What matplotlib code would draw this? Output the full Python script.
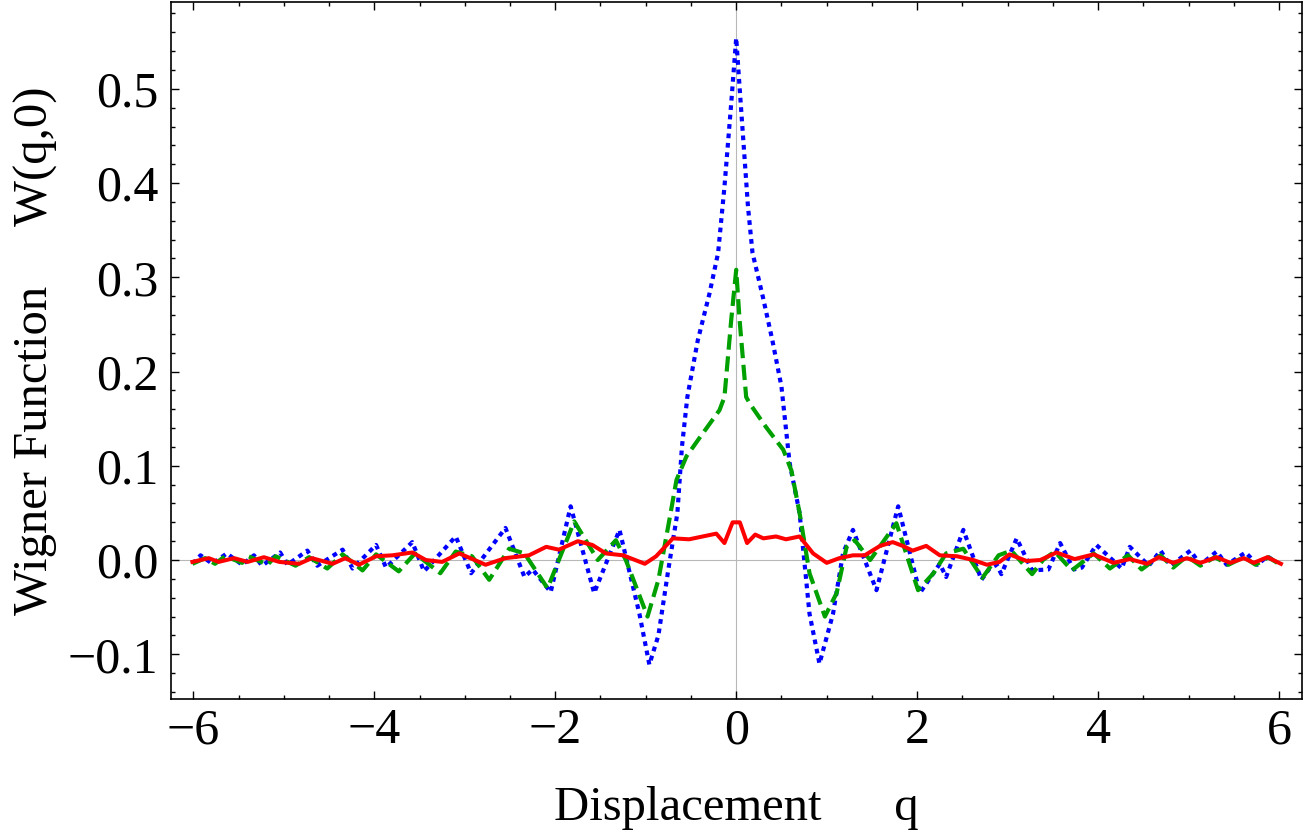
import matplotlib
matplotlib.use('Agg')
import matplotlib.pyplot as plt
from matplotlib.ticker import MultipleLocator

# ---------------- data ----------------
q_blue = [-6.01, -5.92, -5.79, -5.63, -5.46, -5.33, -5.24, -5.04, -4.96, -4.74,
          -4.63, -4.35, -4.24, -3.98, -3.87, -3.58, -3.45, -3.10, -2.93, -2.55,
          -2.34, -2.25, -2.05, -1.83, -1.57, -1.29, -1.07, -0.96, -0.86, -0.75,
          -0.65, -0.60, -0.54, -0.425, -0.295, -0.20, -0.13, -0.055, 0.0, 0.037,
          0.13, 0.18, 0.295, 0.40, 0.50, 0.59, 0.70, 0.81, 0.92, 1.07,
          1.18, 1.29, 1.55, 1.79, 2.03, 2.25, 2.32, 2.51, 2.71, 2.80,
          2.88, 2.93, 3.10, 3.27, 3.45, 3.58, 3.73, 3.82, 3.98, 4.26,
          4.35, 4.56, 4.69, 4.80, 5.02, 5.13, 5.31, 5.42, 5.63, 5.76,
          5.87, 5.96]
w_blue = [-0.004, 0.005, -0.004, 0.007, -0.005, 0.005, -0.006, 0.008, -0.005, 0.010,
          -0.006, 0.011, -0.009, 0.016, -0.008, 0.019, -0.012, 0.025, -0.014, 0.034,
          -0.018, -0.010, -0.034, 0.057, -0.035, 0.032, -0.057, -0.111, -0.080, -0.010,
          0.050, 0.120, 0.173, 0.233, 0.283, 0.326, 0.396, 0.485, 0.554, 0.502,
          0.375, 0.326, 0.279, 0.233, 0.184, 0.103, 0.050, -0.057, -0.110, -0.057,
          0.007, 0.032, -0.032, 0.057, -0.035, -0.004, -0.018, 0.032, -0.021, -0.009,
          -0.005, -0.015, 0.023, -0.011, -0.010, 0.018, -0.010, -0.008, 0.016, -0.009,
          0.014, -0.006, 0.010, -0.006, 0.010, -0.005, 0.009, -0.005, 0.008, -0.005,
          0.004, -0.002]

q_green = [-6.01, -5.87, -5.76, -5.65, -5.46, -5.39, -5.18, -5.09, -4.87, -4.72,
           -4.52, -4.35, -4.13, -3.98, -3.73, -3.55, -3.27, -3.10, -2.92, -2.73,
           -2.51, -2.34, -2.085, -1.79, -1.53, -1.33, -1.22, -0.98, -0.86, -0.74,
           -0.66, -0.55, -0.41, -0.185, -0.13, -0.055, 0.0, 0.037, 0.11, 0.15,
           0.33, 0.52, 0.61, 0.70, 0.81, 0.98, 1.11, 1.22, 1.31, 1.48,
           1.77, 2.01, 2.18, 2.32, 2.51, 2.72, 2.90, 3.04, 3.27, 3.39,
           3.52, 3.71, 3.95, 4.13, 4.33, 4.48, 4.69, 4.83, 4.98, 5.13,
           5.29, 5.44, 5.61, 5.74, 5.88, 5.98]
w_green = [-0.004, 0.002, -0.004, 0.004, -0.003, 0.004, -0.005, 0.004, -0.006, 0.003,
           -0.009, 0.006, -0.011, 0.006, -0.012, 0.007, -0.014, 0.009, 0.004, -0.021,
           0.012, 0.007, -0.030, 0.041, 0.000, 0.021, 0.000, -0.060, -0.021, 0.042,
           0.085, 0.110, 0.129, 0.159, 0.173, 0.255, 0.308, 0.255, 0.173, 0.166,
           0.141, 0.117, 0.095, 0.050, -0.014, -0.060, -0.035, 0.014, 0.021, 0.000,
           0.039, -0.032, -0.014, 0.007, 0.012, -0.019, 0.005, 0.010, -0.015, 0.000,
           0.009, -0.011, 0.007, -0.009, 0.005, -0.010, 0.005, -0.008, 0.004, -0.006,
           0.003, -0.005, 0.003, -0.005, 0.003, -0.003]

q_red = [-6.01, -5.83, -5.72, -5.55, -5.40, -5.22, -5.05, -4.83, -4.69, -4.46,
         -4.32, -4.17, -3.98, -3.80, -3.58, -3.43, -3.25, -3.06, -2.77, -2.55,
         -2.29, -2.10, -1.96, -1.75, -1.59, -1.44, -1.25, -1.01, -0.885, -0.70,
         -0.52, -0.37, -0.22, -0.13, -0.04, 0.04, 0.12, 0.21, 0.30, 0.44,
         0.55, 0.70, 0.85, 1.00, 1.14, 1.29, 1.42, 1.59, 1.73, 1.84,
         1.95, 2.10, 2.25, 2.44, 2.62, 2.77, 2.91, 3.02, 3.21, 3.36,
         3.54, 3.74, 3.95, 4.17, 4.35, 4.54, 4.67, 4.83, 4.98, 5.13,
         5.31, 5.46, 5.61, 5.72, 5.87, 6.02]
w_red = [-0.002, 0.002, -0.002, 0.002, -0.002, 0.003, -0.002, -0.004, 0.002, -0.004,
         0.002, -0.005, 0.004, 0.005, 0.008, 0.000, -0.002, 0.007, -0.005, 0.002,
         0.005, 0.014, 0.011, 0.020, 0.016, 0.007, 0.005, -0.004, 0.004, 0.023,
         0.022, 0.025, 0.028, 0.018, 0.040, 0.040, 0.018, 0.027, 0.023, 0.025,
         0.022, 0.025, 0.007, -0.003, 0.002, 0.005, 0.005, 0.015, 0.019, 0.015,
         0.010, 0.015, 0.005, 0.004, 0.000, -0.005, -0.002, 0.006, -0.001, 0.000,
         0.008, 0.001, 0.006, -0.003, 0.001, -0.004, 0.003, -0.003, 0.002, -0.003,
         0.003, -0.003, 0.002, -0.003, 0.003, -0.004]

x_ticks = [-6, -4, -2, 0, 2, 4, 6]
x_tick_labels = ['\u22126', '\u22124', '\u22122', '0', '2', '4', '6']
y_ticks = [-0.1, 0.0, 0.1, 0.2, 0.3, 0.4, 0.5]
y_tick_labels = ['\u22120.1', '0.0', '0.1', '0.2', '0.3', '0.4', '0.5']

x_label = 'Displacement      q'
y_label = 'Wigner Function     W(q,0)'

# ---------------- drawing ----------------
plt.rcParams['font.family'] = ['Liberation Serif', 'DejaVu Serif']
plt.rcParams['lines.scale_dashes'] = False

fig = plt.figure(figsize=(13.05, 8.34), dpi=100)
ax = fig.add_axes([0.1308, 0.1615, 0.8667, 0.8365])

ax.axhline(0, color='#b8b8b8', lw=0.8, zorder=1)
ax.axvline(0, color='#b8b8b8', lw=0.8, zorder=1)

ax.plot(q_blue, w_blue, color='#0000ff', lw=3.0, ls=(0, (3.4, 3.4)),
        dash_capstyle='butt', solid_joinstyle='round', zorder=3)
ax.plot(q_green, w_green, color='#00a000', lw=3.0, ls=(0, (11.0, 4.8)),
        dash_capstyle='butt', zorder=4)
ax.plot(q_red, w_red, color='#ff0000', lw=2.9, ls='-', solid_joinstyle='round', zorder=5)

ax.set_xlim(-6.25, 6.25)
ax.set_ylim(-0.1478, 0.5925)

ax.set_xticks(x_ticks)
ax.set_xticklabels(x_tick_labels)
ax.set_yticks(y_ticks)
ax.set_yticklabels(y_tick_labels)
ax.xaxis.set_minor_locator(MultipleLocator(0.5))
ax.yaxis.set_minor_locator(MultipleLocator(0.02))

ax.tick_params(which='both', direction='in', top=True, right=True, width=1.0, color='black')
ax.tick_params(which='major', length=5.6, labelsize=36)
ax.tick_params(which='minor', length=3.0)
ax.tick_params(axis='x', which='major', pad=6)
ax.tick_params(axis='y', which='major', pad=9)

for s in ax.spines.values():
    s.set_linewidth(1.2)

ax.set_xlabel(x_label, fontsize=35, va='baseline')
ax.xaxis.set_label_coords(0.5, -0.173)
ax.set_ylabel(y_label, fontsize=35, va='baseline')
ax.yaxis.set_label_coords(-0.109, 0.5)

fig.savefig('out.png', dpi=100)
